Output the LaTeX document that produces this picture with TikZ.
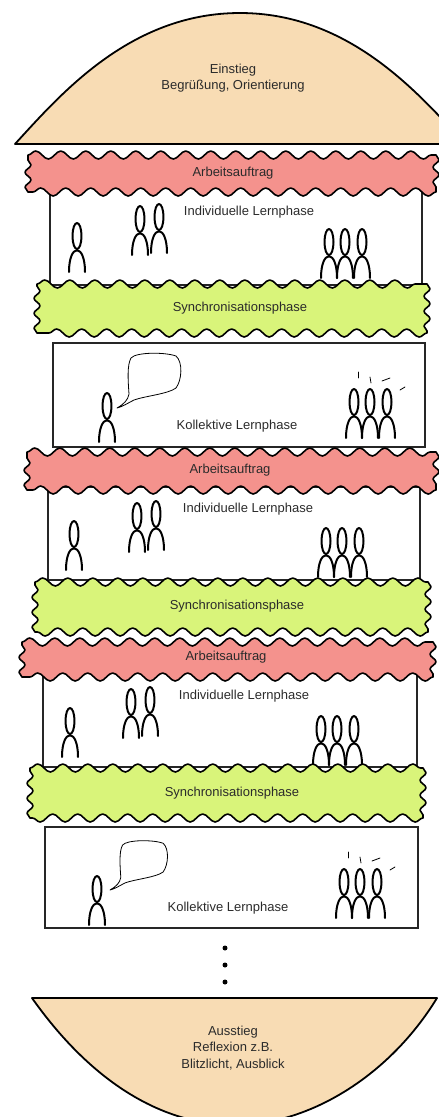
\documentclass[tikz,border=0pt]{standalone}
\usepackage{fontspec}
\setmainfont{Liberation Sans}
\usetikzlibrary{decorations.pathmorphing}
\definecolor{bunpeach}{HTML}{F8DCB4}
\definecolor{sauce}{HTML}{F4928D}
\definecolor{salad}{HTML}{D9F47A}
\definecolor{inkgray}{HTML}{2B2B2B}

\tikzset{
  phase text/.style={font=\fontsize{13}{16.5}\selectfont, text=inkgray, align=center},
  bun/.style={fill=bunpeach, draw=black, line width=1.8pt, line join=round},
  phasebox/.style={draw=black!85, line width=1.4pt},
  layer/.style={draw=black, line width=1.6pt, line join=round,
    decoration={snake, segment length=25pt, amplitude=4pt}},
  sides/.style={decoration={snake, segment length=15pt, amplitude=3pt}},
  stroke/.style={line width=2pt, line cap=round, line join=round},
  thin stroke/.style={line width=0.8pt, line cap=round, line join=round},
  person/.pic={
    \draw[stroke] (-8,0) .. controls (-8,-29) and (8,-29) .. (8,0);
    \draw[stroke] (0,-21.5) -- (0,-23);
    \draw[stroke] (0,-36) ellipse [x radius=4.5, y radius=13];
  },
  duo/.pic={
    \pic at (0,0) {person};
    \pic at (19,-2) {person};
  },
  trio/.pic={
    \pic at (0,0) {person};
    \pic at (16,0) {person};
    \pic at (33,0) {person};
  },
  rays/.pic={
    \draw[thin stroke] (4,-66) -- (4,-60);
    \draw[thin stroke] (16,-61) -- (17,-55);
    \draw[thin stroke] (28,-57) -- (36,-60);
    \draw[thin stroke] (46,-48) -- (51,-51);
  },
  bubble/.pic={
    \draw[thin stroke] (0,0) .. controls (7,-4) and (11,-8) .. (12,-14)
      .. controls (11,-28) and (10,-43) .. (14,-50)
      .. controls (19,-56) and (48,-56) .. (59,-52)
      .. controls (66,-46) and (65,-28) .. (59,-20)
      .. controls (51,-14) and (28,-12) .. (17,-8)
      .. controls (11,-5) and (5,-1) .. (0,0);
  },
}

\begin{document}
\begin{tikzpicture}[x=1pt, y=-1pt]
  \useasboundingbox (0,0) rectangle (439,1117);
  \clip (0,0) rectangle (439,1117);

  % top bun
  \path[bun] (15,144) .. controls (60,95) and (130,13) .. (240,13)
    .. controls (350,13) and (420,95) .. (465,144) -- cycle;
  \node[phase text] (einstieg) at (233,78) {Einstieg\\Begrüßung, Orientierung};

  % phase boxes
  \draw[phasebox] (50,187) rectangle (422,285);
  \draw[phasebox] (53,343) rectangle (425,447);
  \draw[phasebox] (48,487) rectangle (420,580);
  \draw[phasebox] (43,672) rectangle (417,767);
  \draw[phasebox] (45,827) rectangle (418,928);

  % people
  \pic at (77,272) {person};
  \pic at (140,255) {duo};
  \pic at (329,278) {trio};

  \pic at (107,442) {person};
  \pic at (117,408) {bubble};
  \pic at (354,438) {trio};
  \pic at (354,438) {rays};

  \pic at (74,570) {person};
  \pic at (137,552) {duo};
  \pic at (326,577) {trio};

  \pic at (70,757) {person};
  \pic at (131,738) {duo};
  \pic at (321,765) {trio};

  \pic at (97,925) {person};
  \pic[scale=0.9] at (110,890) {bubble};
  \pic at (344,918) {trio};
  \pic at (344,918) {rays};

  % sauce and salad layers
  \path[layer, fill=sauce] (28,155) decorate {-- (436,155)} decorate[sides] {-- (436,192)}
    decorate {-- (28,192)} decorate[sides] {-- (28,155)} -- cycle;
  \path[layer, fill=salad] (37,284) decorate {-- (427,284)} decorate[sides] {-- (427,333)}
    decorate {-- (37,333)} decorate[sides] {-- (37,284)} -- cycle;
  \path[layer, fill=sauce] (27,452) decorate {-- (436,452)} decorate[sides] {-- (436,490)}
    decorate {-- (27,490)} decorate[sides] {-- (27,452)} -- cycle;
  \path[layer, fill=salad] (35,582) decorate {-- (428,582)} decorate[sides] {-- (428,632)}
    decorate {-- (35,632)} decorate[sides] {-- (35,582)} -- cycle;
  \path[layer, fill=sauce] (22,642) decorate {-- (433,642)} decorate[sides] {-- (433,677)}
    decorate {-- (22,677)} decorate[sides] {-- (22,642)} -- cycle;
  \path[layer, fill=salad] (30,768) decorate {-- (423,768)} decorate[sides] {-- (423,818)}
    decorate {-- (30,818)} decorate[sides] {-- (30,768)} -- cycle;

  % labels
  \node[phase text] (auftrag1) at (233,173) {Arbeitsauftrag};
  \node[phase text] (indiv1) at (249,212) {Individuelle Lernphase};
  \node[phase text] (sync1) at (240,308) {Synchronisationsphase};
  \node[phase text] (koll1) at (237,426) {Kollektive Lernphase};
  \node[phase text] (auftrag2) at (230,470) {Arbeitsauftrag};
  \node[phase text] (indiv2) at (248,509) {Individuelle Lernphase};
  \node[phase text] (sync2) at (237,606) {Synchronisationsphase};
  \node[phase text] (auftrag3) at (226,657) {Arbeitsauftrag};
  \node[phase text] (indiv3) at (244,696) {Individuelle Lernphase};
  \node[phase text] (sync3) at (232,793) {Synchronisationsphase};
  \node[phase text] (koll2) at (228,908) {Kollektive Lernphase};

  % more of the same
  \fill (225,948) circle (2.5);
  \fill (225,965) circle (2.5);
  \fill (225,982) circle (2.5);

  % bottom bun
  \path[bun] (32,998) -- (437,998) .. controls (390,1075) and (310,1125) .. (235,1125)
    .. controls (160,1125) and (90,1080) .. (32,998) -- cycle;
  \node[phase text] (ausstieg) at (233,1048) {Ausstieg\\Reflexion z.B.\\Blitzlicht, Ausblick};
\end{tikzpicture}
\end{document}
